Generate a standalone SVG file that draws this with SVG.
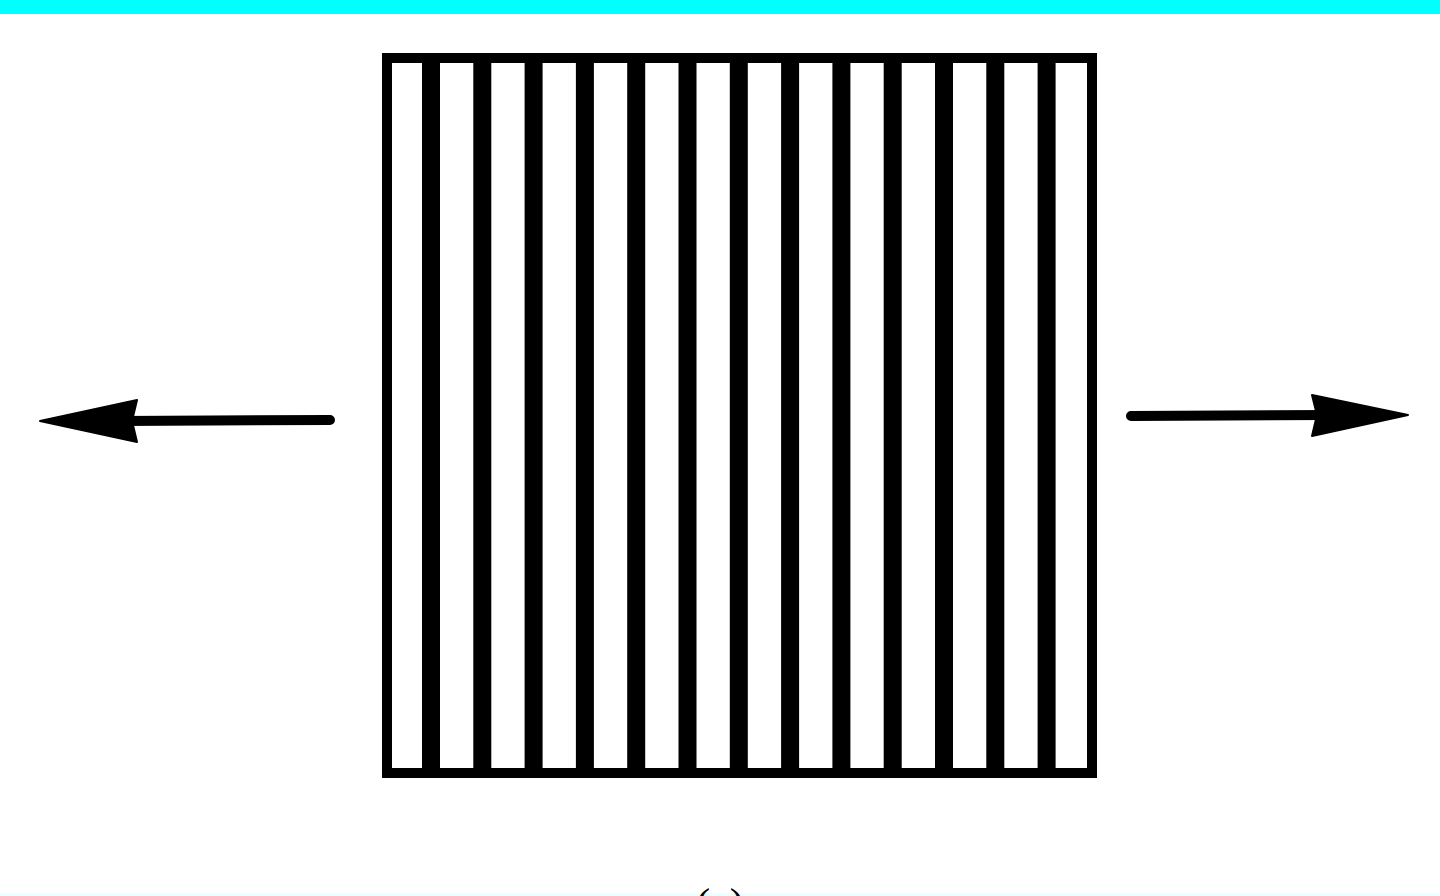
<svg xmlns="http://www.w3.org/2000/svg" width="1440" height="896" viewBox="0 0 1440 896">
  <style>
    .bar { fill: #000; }
    .frame { fill: #fff; stroke: #000; stroke-width: 10; }
    .shaft { stroke: #000; stroke-width: 10; stroke-linecap: round; fill: none; }
    .head { fill: #000; stroke: #000; stroke-width: 2; stroke-linejoin: round; }
    .lbl { font-family: "Liberation Serif", serif; font-size: 44px; fill: #000; }
  </style>
  <rect x="0" y="0" width="1440" height="896" fill="#fff"/>
  <rect x="0" y="0" width="1440" height="14" fill="#00ffff"/>
  <rect x="0" y="893" width="1440" height="3" fill="#eaffff"/>
  <g id="grating">
    <rect class="frame" x="387" y="58" width="705" height="715"/>
    <rect class="bar" x="422" y="58" width="18" height="715"/>
    <rect class="bar" x="473.3" y="58" width="18" height="715"/>
    <rect class="bar" x="524.6" y="58" width="18" height="715"/>
    <rect class="bar" x="575.9" y="58" width="18" height="715"/>
    <rect class="bar" x="627.2" y="58" width="18" height="715"/>
    <rect class="bar" x="678.5" y="58" width="18" height="715"/>
    <rect class="bar" x="729.8" y="58" width="18" height="715"/>
    <rect class="bar" x="781.1" y="58" width="18" height="715"/>
    <rect class="bar" x="832.4" y="58" width="18" height="715"/>
    <rect class="bar" x="883.7" y="58" width="18" height="715"/>
    <rect class="bar" x="935" y="58" width="18" height="715"/>
    <rect class="bar" x="986.3" y="58" width="18" height="715"/>
    <rect class="bar" x="1037.6" y="58" width="18" height="715"/>
  </g>
  <g id="connectors">
    <g id="arrow-left">
      <line class="shaft" x1="330" y1="420" x2="120" y2="421"/>
      <polygon class="head" points="40,421 137,400 132,421 137,442"/>
    </g>
    <g id="arrow-right">
      <line class="shaft" x1="1131" y1="416" x2="1330" y2="415"/>
      <polygon class="head" points="1408,415 1312,395 1317,415 1312,436"/>
    </g>
  </g>
  <g id="caption">
    <text class="lbl" x="720" y="919" text-anchor="middle">(a)</text>
  </g>
</svg>
